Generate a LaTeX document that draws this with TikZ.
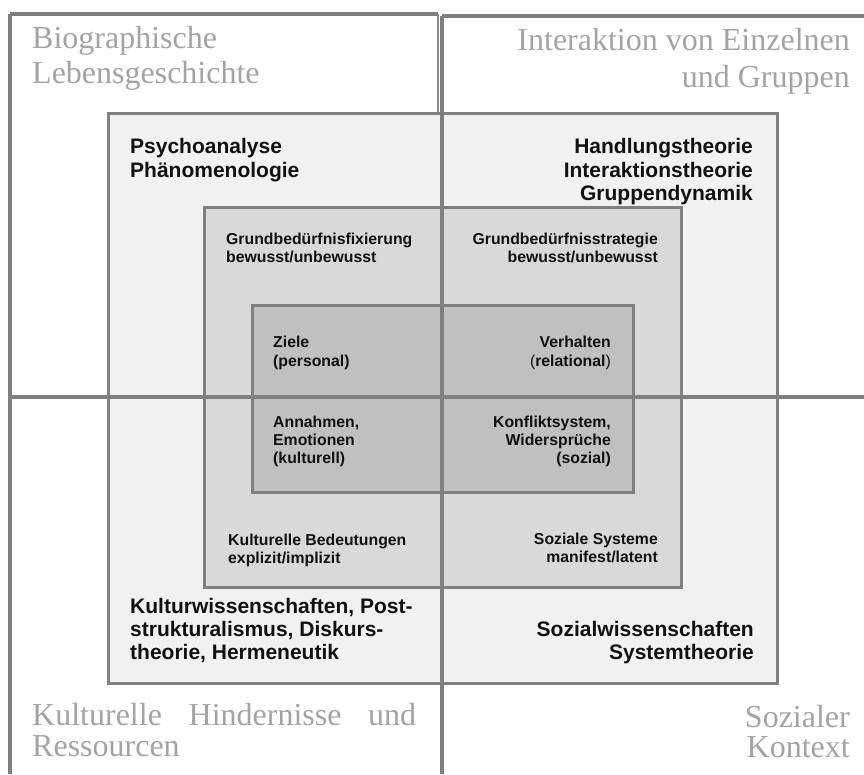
\documentclass[tikz,border=0pt]{standalone}
\usepackage{fontspec}
\setmainfont{Liberation Serif}
\newfontfamily\arialfont{Liberation Sans}
\definecolor{linegray}{HTML}{808080}
\definecolor{thingray}{HTML}{8C8C8C}
\definecolor{outgray}{HTML}{A3A3A3}
\definecolor{fillA}{HTML}{F1F1F1}
\definecolor{fillB}{HTML}{D9D9D9}
\definecolor{fillC}{HTML}{C0C0C0}
\definecolor{textblack}{HTML}{111111}
\tikzset{
  crossline/.style={draw=linegray, line width=3.5pt},
  thinline/.style={draw=thingray, line width=2pt},
  boxline/.style={draw=linegray, line width=3pt, rectangle, inner sep=0pt, outer sep=0pt},
  outertext/.style={text=outgray, font=\fontsize{32}{36}\selectfont, inner sep=0pt},
  bigtext/.style={text=textblack, font=\arialfont\bfseries\fontsize{21}{24}\selectfont, inner sep=0pt},
  smalltext/.style={text=textblack, font=\arialfont\bfseries\fontsize{15.8}{18}\selectfont, inner sep=0pt}
}
\begin{document}
\begin{tikzpicture}[x=1pt,y=-1pt]
\useasboundingbox (0,0) rectangle (864,774);
% top-left quadrant frame edge (thin, partly hidden)
\coordinate (qa) at (438,14);
\coordinate (qb) at (438,397);
\draw[thinline] (qa) -- (qb);
% boxes
\node[boxline, fill=fillA, minimum width=669pt, minimum height=570pt] (mid) at (442.5,398) {};
\node[boxline, fill=fillB, minimum width=477pt, minimum height=380pt] (sec) at (442.5,397) {};
\node[boxline, fill=fillC, minimum width=381pt, minimum height=187pt] (inn) at (442.5,398.5) {};
% outer frame and cross
\coordinate (tl) at (10,14);
\coordinate (tm) at (438,14);
\coordinate (trs) at (442,16);
\coordinate (tr) at (864,16);
\coordinate (ml) at (10,397);
\coordinate (mr) at (864,397);
\coordinate (bl) at (10,774);
\coordinate (bm) at (442,774);
\draw[crossline] (tl) -- (tm);
\draw[crossline] (trs) -- (tr);
\draw[crossline] (tl) -- (bl);
\draw[crossline] (ml) -- (mr);
\draw[crossline] (trs) -- (bm);
% outer texts
\node[outertext, anchor=base west] (bio1) at (32,48) {Biographische};
\node[outertext, anchor=base west] (bio2) at (32,83) {Lebensgeschichte};
\node[outertext, anchor=base east] (int1) at (850,50) {Interaktion von Einzelnen};
\node[outertext, anchor=base east] (int2) at (850,87) {und Gruppen};
\node[outertext, anchor=base west] (kh1) at (32,725) {\makebox[384pt][l]{Kulturelle\hfill Hindernisse\hfill und}};
\node[outertext, anchor=base west] (kh2) at (32,756) {Ressourcen};
\node[outertext, anchor=base east] (sk1) at (850,727) {Sozialer};
\node[outertext, anchor=base east] (sk2) at (850,757) {Kontext};
% big bold texts
\node[bigtext, anchor=base west] (psy1) at (130,153) {Psychoanalyse};
\node[bigtext, anchor=base west] (psy2) at (130,177) {Phänomenologie};
\node[bigtext, anchor=base east] (hd1) at (753,153) {Handlungstheorie};
\node[bigtext, anchor=base east] (hd2) at (753,177) {Interaktionstheorie};
\node[bigtext, anchor=base east] (hd3) at (753,200) {Gruppendynamik};
\node[bigtext, anchor=base west] (kw1) at (130,613) {Kulturwissenschaften, Post-};
\node[bigtext, anchor=base west] (kw2) at (130,636) {strukturalismus, Diskurs-};
\node[bigtext, anchor=base west] (kw3) at (130,659) {theorie, Hermeneutik};
\node[bigtext, anchor=base east] (sw1) at (754,636) {Sozialwissenschaften};
\node[bigtext, anchor=base east] (sw2) at (754,659) {Systemtheorie};
% small bold texts
\node[smalltext, anchor=base west] (gf1) at (226,244) {Grundbedürfnisfixierung};
\node[smalltext, anchor=base west] (gf2) at (226,262) {bewusst/unbewusst};
\node[smalltext, anchor=base east] (gs1) at (658,244) {Grundbedürfnisstrategie};
\node[smalltext, anchor=base east] (gs2) at (658,262) {bewusst/unbewusst};
\node[smalltext, anchor=base west] (zi1) at (273,347) {Ziele};
\node[smalltext, anchor=base west] (zi2) at (273,366) {(personal)};
\node[smalltext, anchor=base east] (vh1) at (611,347) {Verhalten};
\node[smalltext, anchor=base east] (vh2) at (611,366) {{\mdseries(}relational{\mdseries)}};
\node[smalltext, anchor=base west] (an1) at (273,427) {Annahmen,};
\node[smalltext, anchor=base west] (an2) at (273,445) {Emotionen};
\node[smalltext, anchor=base west] (an3) at (273,463) {(kulturell)};
\node[smalltext, anchor=base east] (ko1) at (611,427) {Konfliktsystem,};
\node[smalltext, anchor=base east] (ko2) at (611,445) {Widersprüche};
\node[smalltext, anchor=base east] (ko3) at (611,463) {(sozial)};
\node[smalltext, anchor=base west] (kb1) at (228,545) {Kulturelle Bedeutungen};
\node[smalltext, anchor=base west] (kb2) at (228,563) {explizit/implizit};
\node[smalltext, anchor=base east] (ss1) at (658,544) {Soziale Systeme};
\node[smalltext, anchor=base east] (ss2) at (658,562) {manifest/latent};
\end{tikzpicture}
\end{document}
